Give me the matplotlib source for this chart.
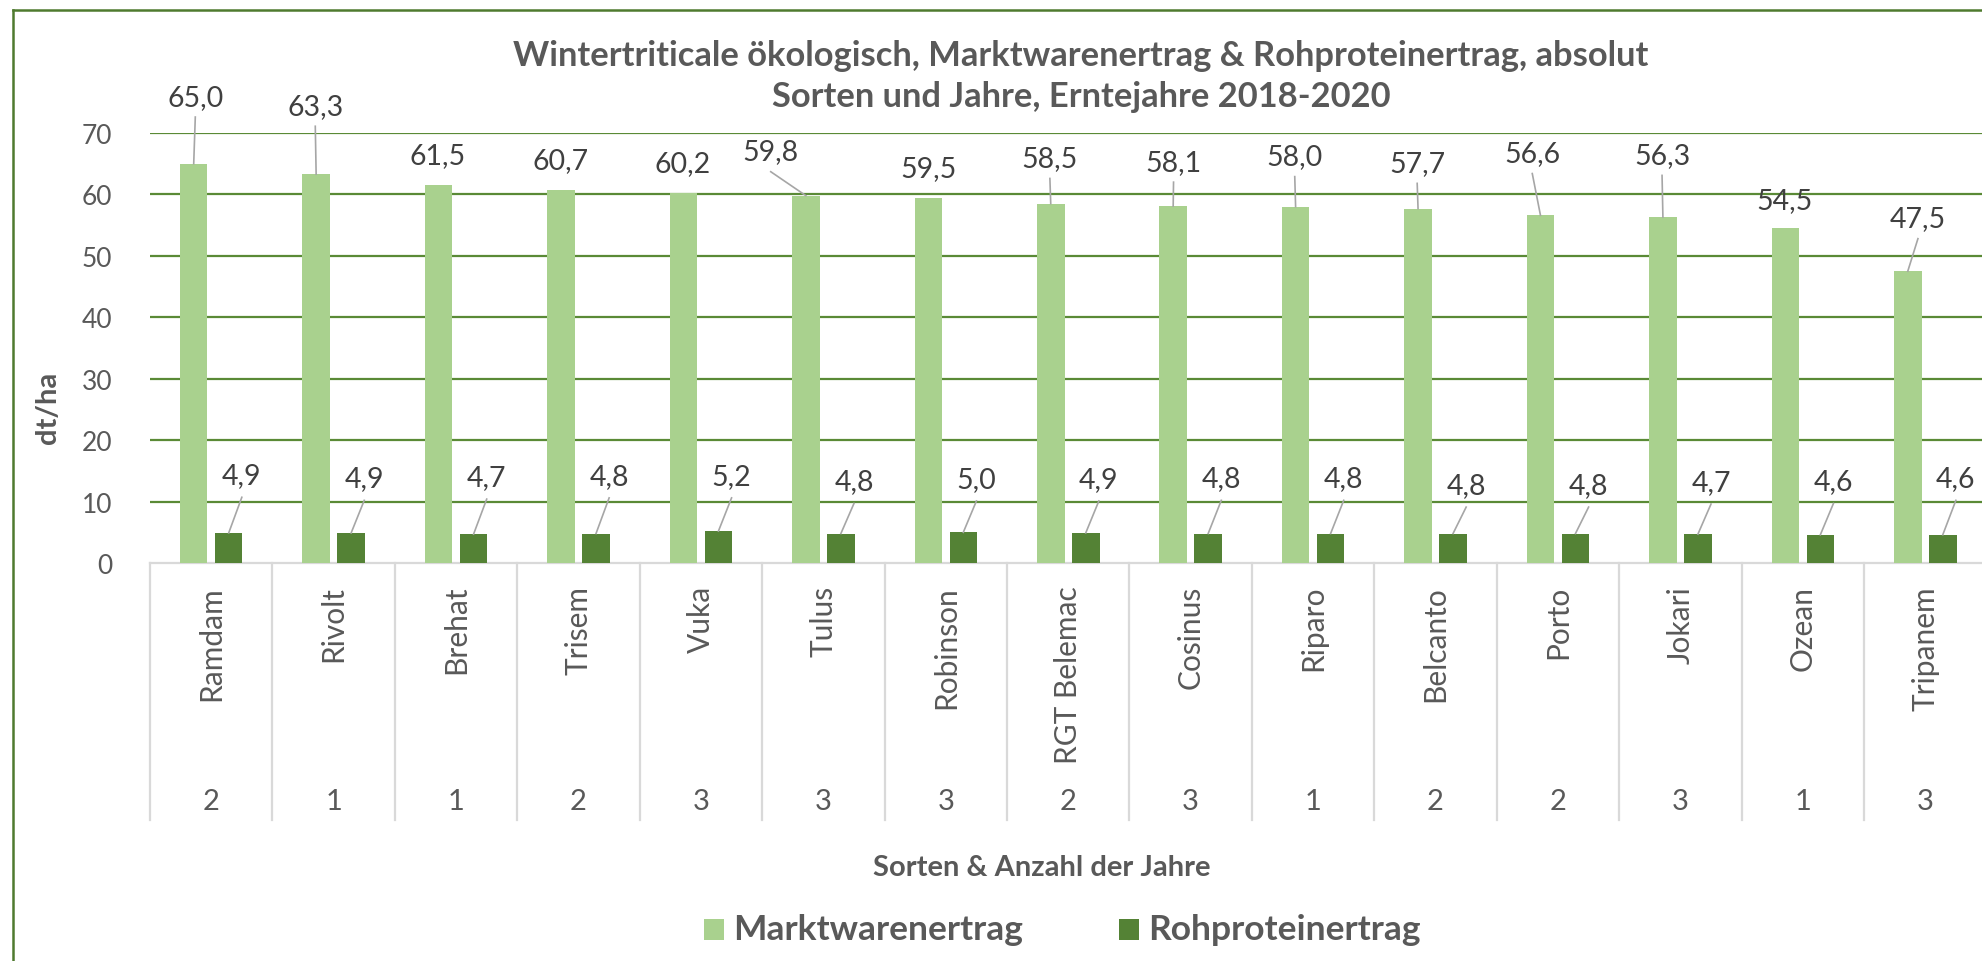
import matplotlib
matplotlib.use('Agg')
import matplotlib.pyplot as plt
from matplotlib.patches import Rectangle
from matplotlib.lines import Line2D
from matplotlib.transforms import blended_transform_factory

plt.rcParams['font.family'] = ['Lato', 'DejaVu Sans']

# data
sorten = ['Ramdam', 'Rivolt', 'Brehat', 'Trisem', 'Vuka', 'Tulus', 'Robinson', 'RGT Belemac',
          'Cosinus', 'Riparo', 'Belcanto', 'Porto', 'Jokari', 'Ozean', 'Tripanem']
jahre = [2, 1, 1, 2, 3, 3, 3, 2, 3, 1, 2, 2, 3, 1, 3]
marktware = [65.0, 63.3, 61.5, 60.7, 60.2, 59.8, 59.5, 58.5, 58.1, 58.0, 57.7, 56.6, 56.3, 54.5, 47.5]
rohprotein = [4.9, 4.9, 4.7, 4.8, 5.2, 4.8, 5.0, 4.9, 4.8, 4.8, 4.8, 4.8, 4.7, 4.6, 4.6]
series_names = ['Marktwarenertrag', 'Rohproteinertrag']

# where the data labels were dragged to (x offset from category, y in dt/ha)
lbl_light_dx = [-0.13, -0.15, -0.15, -0.15, -0.15, -0.43, -0.14, -0.15,
                -0.14, -0.15, -0.15, -0.21, -0.15, -0.15, -0.06]
lbl_light_y = [75.9, 74.4, 66.4, 65.6, 65.1, 67.0, 64.3, 65.9,
               65.3, 66.2, 65.1, 66.7, 66.4, 59.1, 56.1]
lbl_dark_y = [14.3, 13.8, 14.0, 14.2, 14.2, 13.3, 13.7, 13.7,
              13.8, 13.8, 12.7, 12.7, 13.2, 13.3, 13.8]

W, H = 1982, 962
light = '#A9D18E'
dark = '#548235'
grid_c = '#5A8A36'
frame_c = '#4F7A2F'
txt = '#595959'
lbl_c = '#404040'
lead_c = '#A6A6A6'
sep_c = '#D9D9D9'

fig = plt.figure(figsize=(W / 100, H / 100), dpi=100)
fig.patch.set_facecolor('white')

def fx(px):
    return px / W

def fy(py):
    return 1 - py / H

ax = fig.add_axes([fx(150), fy(564), fx(1986.5) - fx(150), fy(134) - fy(564)])
ax.set_xlim(-0.5, len(sorten) - 0.5)
ax.set_ylim(0, 70)
for s in ax.spines.values():
    s.set_visible(False)
ax.set_xticks([])
ax.set_yticks(range(0, 71, 10))
ax.tick_params(axis='y', length=0, pad=27, labelsize=19, labelcolor=txt)
for v in range(10, 71, 10):
    ax.axhline(v, color=grid_c, lw=1.6, zorder=1)
ax.axhline(0, color=sep_c, lw=1.6, zorder=1, clip_on=False)

x = list(range(len(sorten)))
bw = 0.225
off = 0.143
ax.bar([i - off for i in x], marktware, width=bw, color=light, zorder=3, label=series_names[0])
ax.bar([i + off for i in x], rohprotein, width=bw, color=dark, zorder=3, label=series_names[1])

# data labels with leader lines
for i, v in enumerate(marktware):
    lx = i + lbl_light_dx[i]
    ly = lbl_light_y[i]
    ax.text(lx, ly, f'{v:.1f}'.replace('.', ','), ha='center', va='center',
            fontsize=20.5, color=lbl_c, zorder=5, clip_on=False)
    if ly - 3.3 - v > 2.5:
        ax.plot([lx, i - off], [ly - 3.3, v], color=lead_c, lw=1.2, zorder=4, clip_on=False)

for i, v in enumerate(rohprotein):
    lx = i + 0.25
    ly = lbl_dark_y[i]
    ax.text(lx, ly, f'{v:.1f}'.replace('.', ','), ha='center', va='center',
            fontsize=20.5, color=lbl_c, zorder=5)
    ax.plot([lx, i + off], [ly - 3.6, v], color=lead_c, lw=1.2, zorder=4)

# two-level category axis
tr = blended_transform_factory(ax.transData, fig.transFigure)
for k in range(len(sorten) + 1):
    ax.add_line(Line2D([k - 0.5, k - 0.5], [fy(564), fy(821)], transform=tr,
                       color=sep_c, lw=1.6, clip_on=False))
for i, name in enumerate(sorten):
    ax.text(i, fy(586), name, transform=tr, rotation=90, ha='center', va='top',
            fontsize=21.5, color=txt, clip_on=False)
    ax.text(i, fy(802), str(jahre[i]), transform=tr, ha='center', va='center',
            fontsize=21, color=txt, clip_on=False)

# titles
fig.text(fx(1081), fy(56), 'Wintertriticale ökologisch, Marktwarenertrag & Rohproteinertrag, absolut',
         ha='center', va='center', fontsize=24.8, fontweight='bold', color=txt)
fig.text(fx(1081), fy(97), 'Sorten und Jahre, Erntejahre 2018-2020',
         ha='center', va='center', fontsize=24.8, fontweight='bold', color=txt)
fig.text(fx(1042), fy(868), 'Sorten & Anzahl der Jahre', ha='center', va='center',
         fontsize=21, fontweight='bold', color=txt)
fig.text(fx(48), fy(408), 'dt/ha', rotation=90, ha='center', va='center',
         fontsize=21, fontweight='bold', color=txt)

# legend
for px0, col, name in [(704, light, series_names[0]), (1119, dark, series_names[1])]:
    fig.patches.append(Rectangle((fx(px0), fy(941)), fx(20), 21 / H, transform=fig.transFigure,
                                 facecolor=col, edgecolor='none'))
    fig.text(fx(px0 + 29), fy(930), name, ha='left', va='center', fontsize=25.5,
             fontweight='bold', color=txt)

# chart frame (right and bottom edges are outside the picture)
fig.add_artist(Line2D([fx(13), fx(13)], [fy(11), 0], transform=fig.transFigure, color=frame_c, lw=1.8))
fig.add_artist(Line2D([fx(13), 1], [fy(11), fy(11)], transform=fig.transFigure, color=frame_c, lw=1.8))

fig.savefig('out.png', dpi=100)
